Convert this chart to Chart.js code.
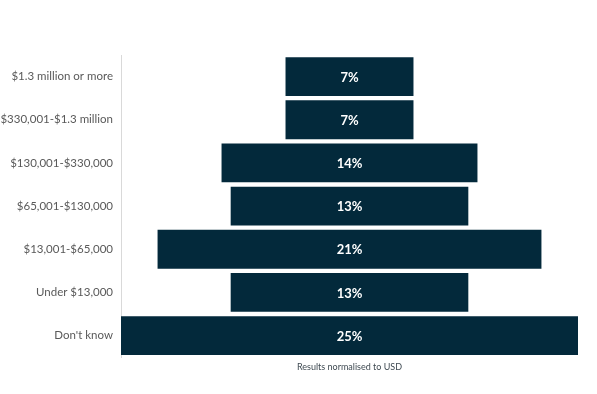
<!DOCTYPE html>
<html>
<head>
<meta charset="utf-8">
<script src="https://cdn.jsdelivr.net/npm/chart.js@4"></script>
<style>
  html, body { margin: 0; padding: 0; background: #fff; }
  #wrap { width: 597px; height: 394px; }
</style>
</head>
<body>
<div id="wrap"><canvas id="chart"></canvas></div>
<script>
// Income bands (top to bottom) and share of respondents
const categories = ['$1.3 million or more', '$330,001-$1.3 million', '$130,001-$330,000',
    '$65,001-$130,000', '$13,001-$65,000', 'Under $13,000', "Don't know"];
const shares = [7, 7, 14, 13, 21, 13, 25];
const footnote = 'Results normalised to USD';

const barColor = '#03293b';

// centred bars, like a funnel
const floating = shares.map(v => [-v / 2, v / 2]);

const barLabels = {
    id: 'barLabels',
    afterDatasetsDraw(chart) {
        const ctx = chart.ctx;
        const meta = chart.getDatasetMeta(0);
        ctx.save();
        ctx.fillStyle = '#ffffff';
        ctx.font = "bold 13px Lato, 'Open Sans', sans-serif";
        ctx.textAlign = 'center';
        ctx.textBaseline = 'middle';
        meta.data.forEach((bar, i) => {
            const c = bar.getCenterPoint();
            ctx.fillText(shares[i] + '%', c.x, c.y + 1);
        });
        ctx.restore();
    }
};

new Chart(document.getElementById('chart'), {
    type: 'bar',
    data: {
        labels: categories,
        datasets: [{
            data: floating,
            backgroundColor: barColor,
            borderWidth: 0,
            borderSkipped: false,
            barPercentage: 0.9,
            categoryPercentage: 1
        }]
    },
    options: {
        indexAxis: 'y',
        responsive: true,
        maintainAspectRatio: false,
        animation: false,
        layout: { padding: { top: 55, right: 19, bottom: 20, left: 0 } },
        plugins: {
            legend: { display: false },
            tooltip: { enabled: false }
        },
        scales: {
            x: {
                min: -12.5,
                max: 12.5,
                grid: { display: false, drawTicks: false },
                border: { display: false },
                ticks: { display: false },
                title: {
                    display: true,
                    text: footnote,
                    color: '#3f4a52',
                    font: { family: "Lato, 'Open Sans', sans-serif", size: 9 },
                    padding: { top: 4, bottom: 2 }
                }
            },
            y: {
                grid: { display: false, drawTicks: false },
                border: { display: true, color: '#d9d9d9', width: 1 },
                ticks: {
                    color: '#595959',
                    padding: 8,
                    font: { family: "Lato, 'Open Sans', sans-serif", size: 11.5 }
                },
                afterFit(scale) { scale.width = 121; }
            }
        }
    },
    plugins: [barLabels]
});
</script>
</body>
</html>
